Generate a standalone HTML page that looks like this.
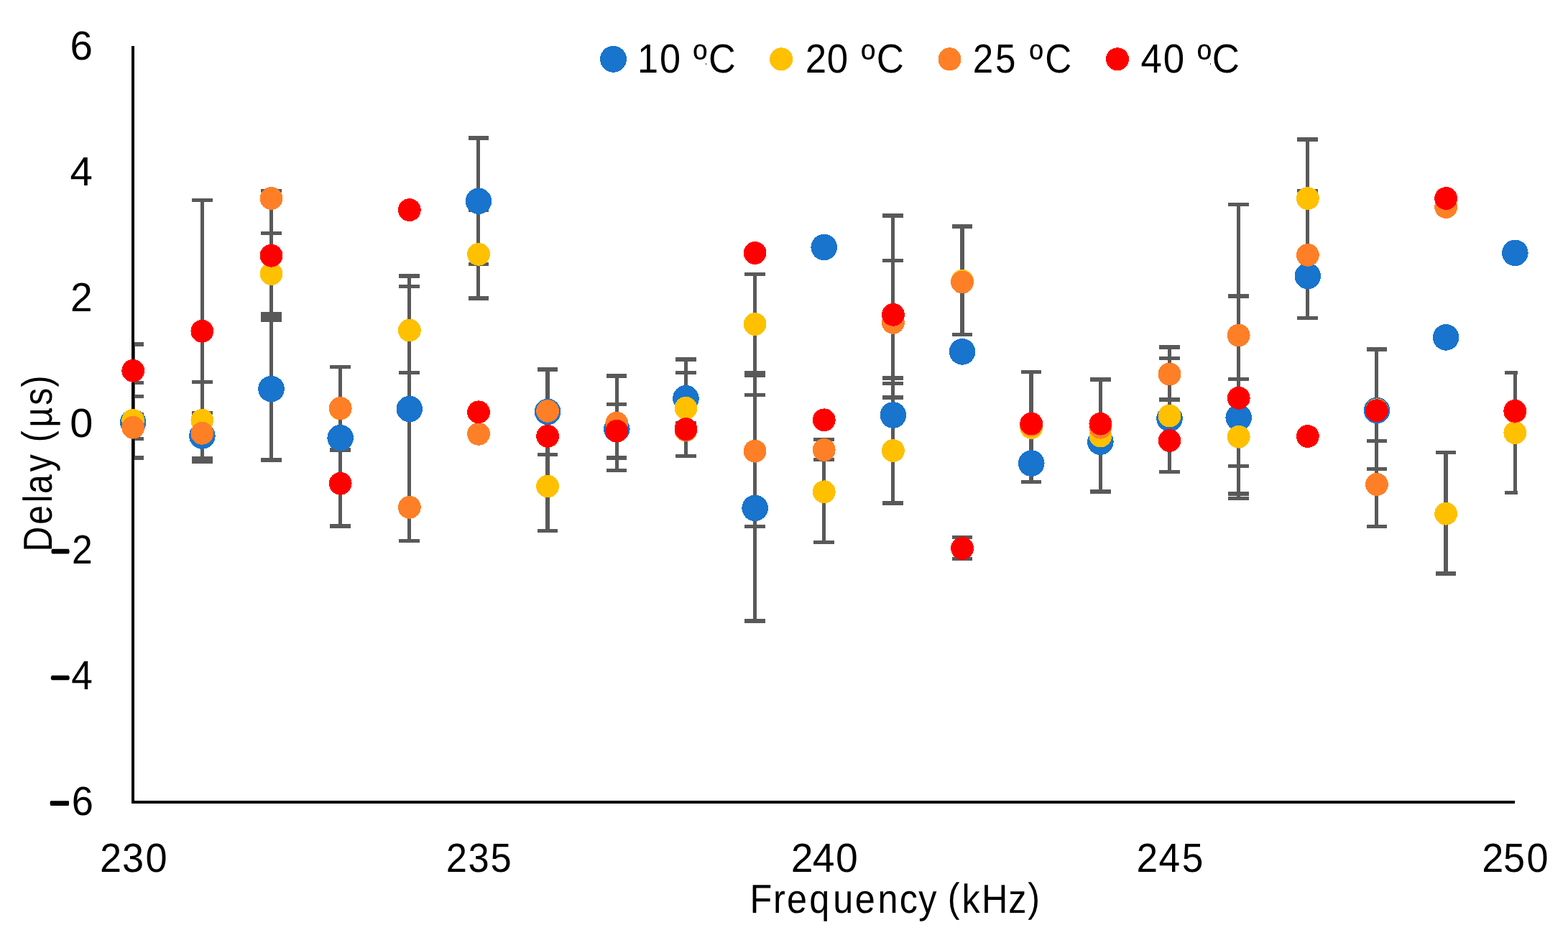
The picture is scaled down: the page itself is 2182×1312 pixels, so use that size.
<!DOCTYPE html>
<html lang="en"><head><meta charset="utf-8"><title>Delay vs Frequency</title>
<style>html,body{margin:0;padding:0;background:#fff}body{width:2182px;height:1312px}svg{display:block}text{font-family:"Liberation Sans",sans-serif;fill:#000;text-rendering:geometricPrecision}</style></head><body>
<svg width="2182" height="1312" viewBox="0 0 2182 1312">
<rect width="2182" height="1312" fill="#fff"/>
<defs><clipPath id="plot"><rect x="183" y="50" width="1929" height="1066"/></clipPath></defs>
<g id="errorbars" clip-path="url(#plot)" fill="#595959" shape-rendering="crispEdges">
<rect x="182.45" y="479" width="5.2" height="158"/>
<rect x="170.74" y="476.35" width="29.26" height="5.3"/>
<rect x="170.74" y="529.85" width="29.26" height="5.3"/>
<rect x="170.74" y="548.95" width="29.26" height="5.3"/>
<rect x="170.74" y="574.35" width="29.26" height="5.3"/>
<rect x="170.74" y="607.95" width="29.26" height="5.3"/>
<rect x="170.74" y="634.35" width="29.26" height="5.3"/>
<rect x="278.61" y="278.4" width="5.2" height="363.9"/>
<rect x="266.9" y="275.75" width="28.62" height="5.3"/>
<rect x="266.9" y="528.55" width="28.62" height="5.3"/>
<rect x="266.9" y="572.15" width="28.62" height="5.3"/>
<rect x="266.9" y="634.95" width="28.62" height="5.3"/>
<rect x="266.9" y="639.65" width="28.62" height="5.3"/>
<rect x="374.76" y="265.5" width="5.2" height="374.5"/>
<rect x="363.05" y="262.85" width="28.62" height="5.3"/>
<rect x="363.05" y="321.75" width="28.62" height="5.3"/>
<rect x="363.05" y="434.35" width="28.62" height="5.3"/>
<rect x="363.05" y="439.35" width="28.62" height="5.3"/>
<rect x="363.05" y="442.55" width="28.62" height="5.3"/>
<rect x="363.05" y="637.35" width="28.62" height="5.3"/>
<rect x="470.92" y="510.4" width="5.2" height="221.6"/>
<rect x="459.21" y="507.75" width="28.62" height="5.3"/>
<rect x="459.21" y="623.45" width="28.62" height="5.3"/>
<rect x="459.21" y="729.35" width="28.62" height="5.3"/>
<rect x="567.07" y="384" width="5.2" height="368.4"/>
<rect x="555.36" y="381.35" width="28.62" height="5.3"/>
<rect x="555.36" y="396.15" width="28.62" height="5.3"/>
<rect x="555.36" y="515.85" width="28.62" height="5.3"/>
<rect x="555.36" y="749.75" width="28.62" height="5.3"/>
<rect x="663.23" y="192" width="5.2" height="223"/>
<rect x="651.52" y="189.35" width="28.62" height="5.3"/>
<rect x="651.52" y="289.65" width="28.62" height="5.3"/>
<rect x="651.52" y="364.75" width="28.62" height="5.3"/>
<rect x="651.52" y="412.35" width="28.62" height="5.3"/>
<rect x="759.38" y="514" width="5.2" height="224.4"/>
<rect x="747.67" y="511.35" width="28.62" height="5.3"/>
<rect x="747.67" y="629.85" width="28.62" height="5.3"/>
<rect x="747.67" y="735.75" width="28.62" height="5.3"/>
<rect x="855.53" y="523" width="5.2" height="131.4"/>
<rect x="843.83" y="520.35" width="28.62" height="5.3"/>
<rect x="843.83" y="559.95" width="28.62" height="5.3"/>
<rect x="843.83" y="634.35" width="28.62" height="5.3"/>
<rect x="843.83" y="651.75" width="28.62" height="5.3"/>
<rect x="951.69" y="500" width="5.2" height="134.4"/>
<rect x="939.98" y="497.35" width="28.62" height="5.3"/>
<rect x="939.98" y="516.15" width="28.62" height="5.3"/>
<rect x="939.98" y="585.85" width="28.62" height="5.3"/>
<rect x="939.98" y="631.75" width="28.62" height="5.3"/>
<rect x="1047.85" y="381.4" width="5.2" height="482.6"/>
<rect x="1036.13" y="378.75" width="28.62" height="5.3"/>
<rect x="1036.13" y="515.95" width="28.62" height="5.3"/>
<rect x="1036.13" y="519.35" width="28.62" height="5.3"/>
<rect x="1036.13" y="546.95" width="28.62" height="5.3"/>
<rect x="1036.13" y="729.95" width="28.62" height="5.3"/>
<rect x="1036.13" y="861.35" width="28.62" height="5.3"/>
<rect x="1144" y="611.5" width="5.2" height="142.8"/>
<rect x="1132.29" y="608.85" width="28.62" height="5.3"/>
<rect x="1132.29" y="636.75" width="28.62" height="5.3"/>
<rect x="1132.29" y="751.65" width="28.62" height="5.3"/>
<rect x="1240.15" y="300" width="5.2" height="400"/>
<rect x="1228.44" y="297.35" width="28.62" height="5.3"/>
<rect x="1228.44" y="359.95" width="28.62" height="5.3"/>
<rect x="1228.44" y="523.35" width="28.62" height="5.3"/>
<rect x="1228.44" y="531.15" width="28.62" height="5.3"/>
<rect x="1228.44" y="550.35" width="28.62" height="5.3"/>
<rect x="1228.44" y="697.35" width="28.62" height="5.3"/>
<rect x="1336.31" y="315" width="5.2" height="150.6"/>
<rect x="1336.31" y="747.3" width="5.2" height="30.1"/>
<rect x="1324.6" y="312.35" width="28.62" height="5.3"/>
<rect x="1324.6" y="462.95" width="28.62" height="5.3"/>
<rect x="1324.6" y="744.65" width="28.62" height="5.3"/>
<rect x="1324.6" y="774.75" width="28.62" height="5.3"/>
<rect x="1432.47" y="517.6" width="5.2" height="152.9"/>
<rect x="1420.76" y="514.95" width="28.62" height="5.3"/>
<rect x="1420.76" y="667.85" width="28.62" height="5.3"/>
<rect x="1528.62" y="528" width="5.2" height="156"/>
<rect x="1516.91" y="525.35" width="28.62" height="5.3"/>
<rect x="1516.91" y="681.35" width="28.62" height="5.3"/>
<rect x="1624.78" y="483" width="5.2" height="173.5"/>
<rect x="1613.07" y="480.35" width="28.62" height="5.3"/>
<rect x="1613.07" y="495.75" width="28.62" height="5.3"/>
<rect x="1613.07" y="553.35" width="28.62" height="5.3"/>
<rect x="1613.07" y="653.85" width="28.62" height="5.3"/>
<rect x="1720.93" y="284.5" width="5.2" height="408.9"/>
<rect x="1709.22" y="281.85" width="28.62" height="5.3"/>
<rect x="1709.22" y="409.35" width="28.62" height="5.3"/>
<rect x="1709.22" y="524.85" width="28.62" height="5.3"/>
<rect x="1709.22" y="645.85" width="28.62" height="5.3"/>
<rect x="1709.22" y="684.25" width="28.62" height="5.3"/>
<rect x="1709.22" y="690.75" width="28.62" height="5.3"/>
<rect x="1817.09" y="194" width="5.2" height="248.3"/>
<rect x="1805.38" y="191.35" width="28.62" height="5.3"/>
<rect x="1805.38" y="262.85" width="28.62" height="5.3"/>
<rect x="1805.38" y="439.65" width="28.62" height="5.3"/>
<rect x="1913.24" y="486" width="5.2" height="246.5"/>
<rect x="1901.53" y="483.35" width="28.62" height="5.3"/>
<rect x="1901.53" y="611.15" width="28.62" height="5.3"/>
<rect x="1901.53" y="649.85" width="28.62" height="5.3"/>
<rect x="1901.53" y="729.85" width="28.62" height="5.3"/>
<rect x="2009.39" y="629.6" width="5.2" height="168.4"/>
<rect x="1997.68" y="626.95" width="28.62" height="5.3"/>
<rect x="1997.68" y="795.35" width="28.62" height="5.3"/>
<rect x="2105.55" y="518.6" width="5.2" height="167"/>
<rect x="2093.84" y="515.95" width="28.62" height="5.3"/>
<rect x="2093.84" y="682.95" width="28.62" height="5.3"/>
</g>
<g id="axes" fill="#000" shape-rendering="crispEdges">
<rect x="183" y="63.9" width="4" height="1054"/>
<rect x="183" y="1113.9" width="1924.9" height="4"/>
</g>
<g id="markers" shape-rendering="crispEdges">
<g fill="#1874CD">
<circle cx="185.2" cy="587.6" r="18.3"/>
<circle cx="281.36" cy="606.5" r="18.3"/>
<circle cx="377.51" cy="541.1" r="18.3"/>
<circle cx="473.67" cy="609.2" r="18.3"/>
<circle cx="569.82" cy="569" r="18.3"/>
<circle cx="665.98" cy="279.8" r="18.3"/>
<circle cx="762.13" cy="572.9" r="18.3"/>
<circle cx="858.28" cy="596.8" r="18.3"/>
<circle cx="954.44" cy="554.3" r="18.3"/>
<circle cx="1050.6" cy="706.9" r="18.3"/>
<circle cx="1146.75" cy="344" r="18.3"/>
<circle cx="1242.9" cy="577.5" r="18.3"/>
<circle cx="1339.06" cy="489.4" r="18.3"/>
<circle cx="1435.22" cy="644.6" r="18.3"/>
<circle cx="1531.37" cy="614.7" r="18.3"/>
<circle cx="1627.53" cy="582.2" r="18.3"/>
<circle cx="1723.68" cy="581" r="18.3"/>
<circle cx="1819.84" cy="384" r="18.3"/>
<circle cx="1915.99" cy="571" r="18.3"/>
<circle cx="2012.14" cy="469.4" r="18.3"/>
<circle cx="2108.3" cy="351.8" r="18.3"/>
</g>
<g fill="#FFC000">
<circle cx="185.2" cy="584.8" r="15.9"/>
<circle cx="281.36" cy="584.8" r="15.9"/>
<circle cx="377.51" cy="380.9" r="15.9"/>
<circle cx="473.67" cy="568.6" r="15.9"/>
<circle cx="569.82" cy="459.6" r="15.9"/>
<circle cx="665.98" cy="353.8" r="15.9"/>
<circle cx="762.13" cy="676.5" r="15.9"/>
<circle cx="858.28" cy="599.5" r="15.9"/>
<circle cx="954.44" cy="567.8" r="15.9"/>
<circle cx="1050.6" cy="450.9" r="15.9"/>
<circle cx="1146.75" cy="684.3" r="15.9"/>
<circle cx="1242.9" cy="627" r="15.9"/>
<circle cx="1339.06" cy="391" r="15.9"/>
<circle cx="1435.22" cy="595" r="15.9"/>
<circle cx="1531.37" cy="606.5" r="15.9"/>
<circle cx="1627.53" cy="578.5" r="15.9"/>
<circle cx="1723.68" cy="607.7" r="15.9"/>
<circle cx="1819.84" cy="276" r="15.9"/>
<circle cx="1915.99" cy="570.3" r="15.9"/>
<circle cx="2012.14" cy="714.7" r="15.9"/>
<circle cx="2108.3" cy="602.1" r="15.9"/>
</g>
<g fill="#FF7F27">
<circle cx="185.2" cy="594.7" r="15.9"/>
<circle cx="281.36" cy="602.8" r="15.9"/>
<circle cx="377.51" cy="276.1" r="15.9"/>
<circle cx="473.67" cy="568" r="15.9"/>
<circle cx="569.82" cy="705.8" r="15.9"/>
<circle cx="665.98" cy="603.8" r="15.9"/>
<circle cx="762.13" cy="571.8" r="15.9"/>
<circle cx="858.28" cy="588.6" r="15.9"/>
<circle cx="954.44" cy="598.5" r="15.9"/>
<circle cx="1050.6" cy="627.7" r="15.9"/>
<circle cx="1146.75" cy="625.9" r="15.9"/>
<circle cx="1242.9" cy="448.9" r="15.9"/>
<circle cx="1339.06" cy="392.6" r="15.9"/>
<circle cx="1435.22" cy="591.5" r="15.9"/>
<circle cx="1531.37" cy="594.8" r="15.9"/>
<circle cx="1627.53" cy="520.5" r="15.9"/>
<circle cx="1723.68" cy="466.6" r="15.9"/>
<circle cx="1819.84" cy="354.8" r="15.9"/>
<circle cx="1915.99" cy="674" r="15.9"/>
<circle cx="2012.14" cy="288" r="15.9"/>
<circle cx="2108.3" cy="572.9" r="15.9"/>
</g>
<g fill="#FF0000">
<circle cx="185.2" cy="515.8" r="15.9"/>
<circle cx="281.36" cy="460.8" r="15.9"/>
<circle cx="377.51" cy="355.7" r="15.9"/>
<circle cx="473.67" cy="672.7" r="15.9"/>
<circle cx="569.82" cy="292.1" r="15.9"/>
<circle cx="665.98" cy="573.3" r="15.9"/>
<circle cx="762.13" cy="606.8" r="15.9"/>
<circle cx="858.28" cy="599.7" r="15.9"/>
<circle cx="954.44" cy="596.9" r="15.9"/>
<circle cx="1050.6" cy="351.9" r="15.9"/>
<circle cx="1146.75" cy="584.3" r="15.9"/>
<circle cx="1242.9" cy="437.8" r="15.9"/>
<circle cx="1339.06" cy="762.9" r="15.9"/>
<circle cx="1435.22" cy="589.5" r="15.9"/>
<circle cx="1531.37" cy="589.7" r="15.9"/>
<circle cx="1627.53" cy="613" r="15.9"/>
<circle cx="1723.68" cy="553.8" r="15.9"/>
<circle cx="1819.84" cy="607" r="15.9"/>
<circle cx="1915.99" cy="571.2" r="15.9"/>
<circle cx="2012.14" cy="276" r="15.9"/>
<circle cx="2108.3" cy="571.8" r="15.9"/>
</g>
</g>
<g id="legend" shape-rendering="crispEdges">
<circle cx="853.5" cy="82.3" r="18.5" fill="#1874CD"/>
<circle cx="1087.2" cy="82.3" r="16" fill="#FFC000"/>
<circle cx="1321.5" cy="82.3" r="16" fill="#FF7F27"/>
<circle cx="1555" cy="82.3" r="16" fill="#FF0000"/>
</g>
<g id="specks" fill="#303030" shape-rendering="crispEdges"><rect x="982" y="88" width="1" height="2"/><rect x="1684" y="88" width="1" height="2"/></g>
<g id="labels">
<text transform="scale(0.9994,1)" x="97.59" y="83.35" font-size="56.6" xml:space="preserve">6</text>
<text transform="scale(0.9958,1)" x="97.82" y="257.9" font-size="56.6" xml:space="preserve">4</text>
<text transform="scale(0.9734,1)" x="100.81" y="433.4" font-size="56.6" xml:space="preserve">2</text>
<text transform="scale(1.0201,1)" x="95.43" y="607.95" font-size="56.6" xml:space="preserve">0</text>
<text transform="scale(0.9121,1)" x="75.61 109.74" y="786.02 783.8" font-size="56.6" xml:space="preserve">−2</text>
<text transform="scale(0.9390,1)" x="72.71 105.75" y="961.82 959" font-size="56.6" xml:space="preserve">−4</text>
<text transform="scale(0.9568,1)" x="70.15 104.15" y="1136.37 1134.25" font-size="56.6" xml:space="preserve">−6</text>
<text transform="scale(0.9564,1)" x="145.34 177.82 211.68" y="1213.3" font-size="56.6" xml:space="preserve">230</text>
<text transform="scale(0.9276,1)" x="669.12 702.44 735.86" y="1213.3" font-size="56.6" xml:space="preserve">235</text>
<text transform="scale(0.9771,1)" x="1126.56 1157.39 1190.17" y="1213.3" font-size="56.6" xml:space="preserve">240</text>
<text transform="scale(0.9416,1)" x="1679.73 1712.47 1746.65" y="1213.3" font-size="56.6" xml:space="preserve">245</text>
<text transform="scale(0.9551,1)" x="2159.25 2190.45 2224.32" y="1213.3" font-size="56.6" xml:space="preserve">250</text>
<text transform="scale(0.8941,1)" x="1167.14 1203.32 1224.67 1259.73 1296.51 1330.69 1366.11 1400.04 1429.79 1457.94 1474.86 1497.04 1527.66 1569.42 1599.71" y="1269.8 1269.8 1269.8 1269.8 1269.8 1269.8 1269.8 1269.8 1269.8 1269.8 1267.7 1269.8 1269.8 1269.8 1267.7" font-size="56.3" xml:space="preserve">Frequency (kHz)</text>
<text transform="translate(72.1,0) rotate(-90) scale(0.8547,1)" x="-898 -853.76 -818.04 -803.82 -767.71 -739.56 -719.94 -695.53 -659.7 -629.96" y="0 0 0 0 0 0 -2 0 0 -2" font-size="56.3" xml:space="preserve">Delay (µs)</text>
<text transform="scale(0.9227,1)" x="961.31 994.92 1026.4 1045.49 1068.71" y="100.9" font-size="56.6" xml:space="preserve">10 ºC</text>
<text transform="scale(0.9322,1)" x="1202.29 1234.53 1266.01 1285.66 1308.54" y="100.9" font-size="56.6" xml:space="preserve">20 ºC</text>
<text transform="scale(0.9034,1)" x="1498.65 1533.02 1564.5 1585.94 1609.76" y="100.9" font-size="56.6" xml:space="preserve">25 ºC</text>
<text transform="scale(0.9335,1)" x="1700.65 1733.94 1765.42 1785.06 1806.98" y="100.9" font-size="56.6" xml:space="preserve">40 ºC</text>
</g>
<g id="minus-bars" fill="#000"><rect x="72.1" y="763.85" width="23.9" height="6.7" rx="0.8"/><rect x="71.7" y="939.65" width="24.2" height="6.7" rx="0.8"/><rect x="70" y="1114.2" width="25.9" height="6.7" rx="0.8"/></g>
</svg></body></html>
